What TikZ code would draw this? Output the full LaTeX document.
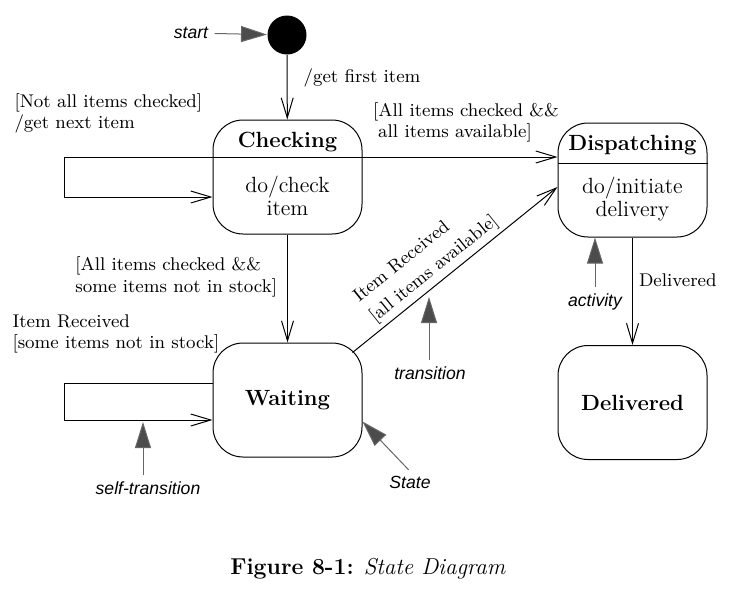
\documentclass[tikz,border=0pt]{standalone}
\usepackage{fontspec}
\newfontfamily\notefont{Liberation Sans}
\usetikzlibrary{arrows.meta}
\begin{document}
\begin{tikzpicture}[x=0.5pt,y=-0.5pt,line join=round,line width=0.5pt,
	state/.style={draw,rounded corners=15pt,minimum width=74.5pt,minimum height=57pt,inner sep=0pt},
	title/.style={font=\fontsize{11}{12}\selectfont\bfseries},
	body/.style={font=\fontsize{11}{11.5}\selectfont,align=center},
	lbl/.style={font=\fontsize{9.2}{10.8}\selectfont,align=left,inner sep=0pt},
	trans/.style={-{Straight Barb[length=10pt,width=6pt]}},
	note/.style={font=\notefont\itshape\fontsize{8.8}{10}\selectfont,inner sep=2pt},
	notearrow/.style={-{Triangle[length=13pt,width=8pt,fill=black!70]},draw=black!60,shorten <=1pt}]
	\useasboundingbox (0,0) rectangle (731,590);
	\node[circle,fill,minimum size=19.5pt,inner sep=0pt] (init) at (287,35) {};
	\node[state] (checking) at (287.5,177) {};
	\node[state] (dispatching) at (632.5,180) {};
	\node[state,title] (waiting) at (287.5,400) {Waiting};
	\node[state,title] (delivered) at (632.5,402.5) {Delivered};
	\node[title] (checkingtitle) at (287.5,142) {Checking};
	\node[body] (checkingbody) at (287.5,196) {do/check\\item};
	\node[title] (dispatchingtitle) at (632.5,145) {Dispatching};
	\node[body] (dispatchingbody) at (632.5,199) {do/initiate\\delivery};
	\draw ([yshift=10pt]checking.west) -- ([yshift=10pt]checking.east);
	\draw ([yshift=8.5pt]dispatching.west) -- ([yshift=8.5pt]dispatching.east);
	\draw[trans] (init) -- (checking) node[lbl,pos=0.36,right=8pt] {/get first item};
	\draw[trans] ([yshift=10pt]checking.east) -- ([yshift=11.5pt]dispatching.west)
		node[lbl,midway,above=7pt,xshift=3pt] {[All items checked \&\&\\\hspace{2.5pt}all items available]};
	\draw[trans] ([yshift=10pt]checking.west) -- ++(-148,0) -- ++(0,40) -- ([yshift=-10pt]checking.west);
	\node[lbl,anchor=south west] (notalllbl) at (14,134) {[Not all items checked]\\/get next item};
	\draw[trans] (checking) -- (waiting) node[lbl,pos=0.39,left=5pt] {[All items checked \&\&\\some items not in stock]};
	\draw[trans] ([yshift=8.5pt]waiting.west) -- ++(-148,0) -- ++(0,37) -- ([yshift=-10pt]waiting.west);
	\node[lbl,anchor=south west] (somelbl) at (12,354) {Item Received\\{}[some items not in stock]};
	\draw[trans] ([shift={(-10,10)}]waiting.north east) -- ([yshift=-3.5pt]dispatching.west)
		node[lbl,font=\fontsize{9.2}{12.8}\selectfont,pos=0.44,above=2pt,sloped] {Item Received\\{}[all items available]};
	\draw[trans] (dispatching) -- (delivered) node[lbl,pos=0.4,right=3pt] {Delivered};
	\node[note] (startlbl) at (191,33) {start};
	\draw[notearrow] (startlbl) -- (init);
	\node[note] (actlbl) at (595,302) {activity};
	\draw[notearrow] (actlbl) -- (actlbl |- dispatching.south);
	\coordinate (transtip) at (429,297);
	\node[note] (translbl) at (430,373) {transition};
	\draw[notearrow] (translbl.north -| transtip) -- (transtip);
	\coordinate (selftip) at (143,422);
	\node[note] (selflbl) at (148,488) {self-transition};
	\draw[notearrow] (selflbl.north -| selftip) -- (selftip);
	\node[note] (statelbl) at (410,482) {State};
	\draw[notearrow] (statelbl.north) -- (waiting.-16);
	\node[font=\fontsize{11.5}{13}\selectfont] (caption) at (368,569) {\textbf{Figure 8-1:} \textit{State Diagram}};
\end{tikzpicture}
\end{document}
